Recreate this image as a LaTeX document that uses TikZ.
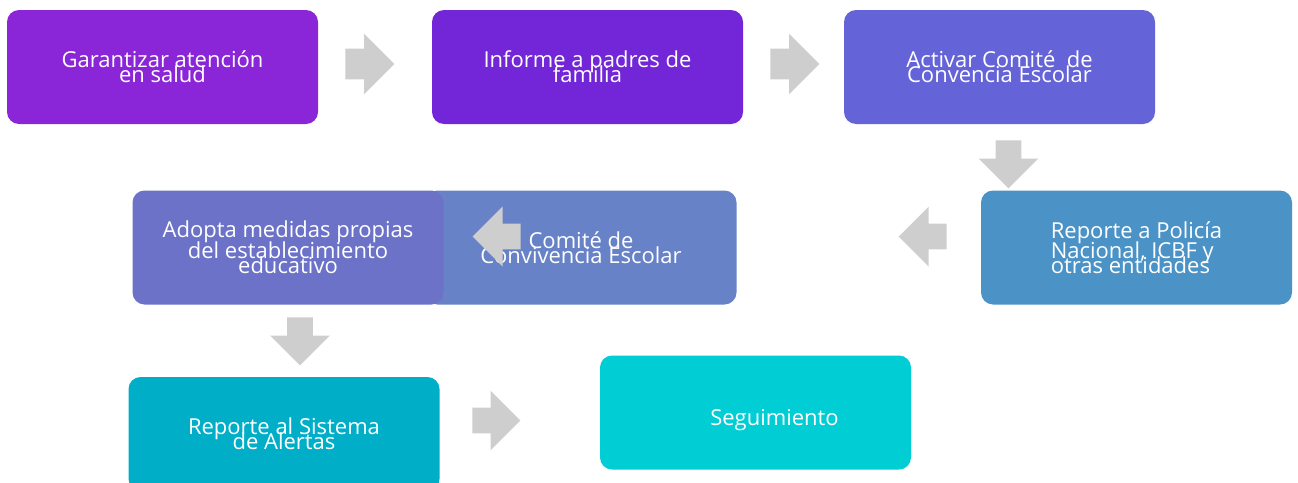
\documentclass[tikz,border=0pt]{standalone}
\usepackage{fontspec}
\setmainfont{Open Sans}
\usetikzlibrary{shapes.arrows}
\definecolor{cA}{HTML}{8A25D8}
\definecolor{cB}{HTML}{7326D8}
\definecolor{cC}{HTML}{6563D8}
\definecolor{cD}{HTML}{4B93C7}
\definecolor{cE}{HTML}{6882C8}
\definecolor{cF}{HTML}{6B72C7}
\definecolor{cG}{HTML}{00AEC8}
\definecolor{cH}{HTML}{00CDD4}
\definecolor{arrowgray}{HTML}{CECECE}
\newcommand{\boxfont}{\fontsize{16.5pt}{11.25pt}\selectfont\lineskiplimit=-30pt\relax\lineskip=0pt\relax}
\tikzset{
  box/.style={rounded corners=9pt, minimum width=233.25pt, minimum height=85.5pt,
    inner sep=0pt, text=white, align=center, font=\boxfont},
  bigarrow/.style={single arrow, fill=arrowgray, draw=none, inner xsep=0pt,
    inner ysep=11.25pt, single arrow head extend=11.25pt,
    minimum height=36.75pt, minimum width=45pt, anchor=tail},
  smallarrow/.style={single arrow, fill=arrowgray, draw=none, inner xsep=0pt,
    inner ysep=9.375pt, single arrow head extend=12.75pt,
    minimum height=36pt, minimum width=44.25pt, anchor=tail}
}
\begin{document}
\begin{tikzpicture}[x=0.75pt,y=-0.75pt]
\useasboundingbox (0,0) rectangle (1298,482);
\clip (0,0) rectangle (1298,482);
\node[box, fill=cA] (b1) at (162.5,67) {Garantizar atención\\en salud};
\node[box, fill=cB] (b2) at (587.5,67) {Informe a padres de\\familia};
\node[box, fill=cC] (b3) at (999.5,67) {Activar Comité~ de\\Convencia Escolar};
\node[box, fill=cD, align=left] (b4) at (1136.5,247.5) {Reporte a Policía\\[3.75pt]Nacional, ICBF y\\otras entidades};
\node[box, fill=cE] (b5) at (581,247.5) {Comité de\\Convivencia Escolar};
\node[box, fill=cF] (b6) at (288,247.5) {Adopta medidas propias\\[4.5pt]del establecimiento\\educativo};
\node[box, fill=cG] (b7) at (284,434) {Reporte al Sistema\\de Alertas};
\node[box, fill=cH] (b8) at (755.5,412.5) {\hspace*{28.5pt}\raisebox{-6pt}[\height][\depth]{Seguimiento}};
\node[bigarrow] (a1) at (345,64) {};
\node[bigarrow] (a2) at (770,64) {};
\node[smallarrow, rotate=-90] (a3) at (1008.5,140) {};
\node[smallarrow, rotate=180] (a4) at (947,236.5) {};
\node[smallarrow, rotate=180] (a5) at (521,236.5) {};
\node[smallarrow, rotate=-90] (a6) at (300,317) {};
\node[smallarrow] (a7) at (472,420.5) {};
\end{tikzpicture}
\end{document}
